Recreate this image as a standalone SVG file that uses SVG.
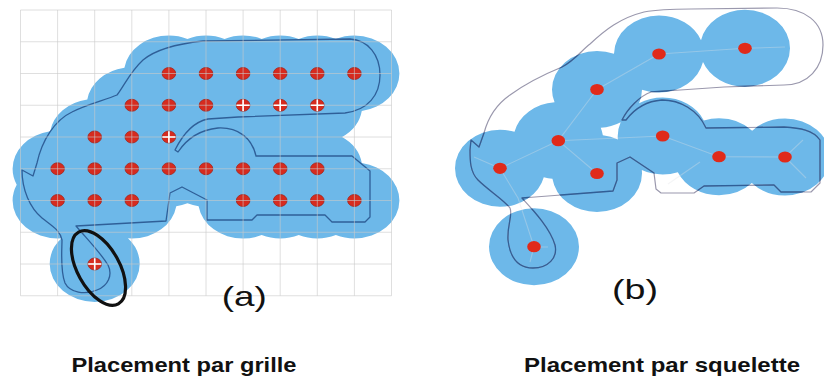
<svg xmlns="http://www.w3.org/2000/svg" width="824" height="383" viewBox="0 0 824 383">
<style>
.blob{fill:#6db8e9}
.grid{fill:none;stroke:#c9c9c9;stroke-width:1;opacity:0.6}
.outA{fill:none;stroke:#2f5f98;stroke-width:1.3;stroke-linejoin:round}
.outGray{fill:none;stroke:#9a98ad;stroke-width:1.2;stroke-linejoin:round}
.outBlue{fill:none;stroke:#2f5f98;stroke-width:1.3;stroke-linejoin:round}
.dotA{fill:#d62b1f;stroke:#a52319;stroke-width:0.8}
.dotB{fill:#e02a1a}
.cross{stroke:#ffffff;stroke-width:1.6}
.skel{fill:none;stroke:#dfe3e6;stroke-width:1.1;opacity:0.35}
.ring{fill:none;stroke:#111;stroke-width:3.2}
.lbl{font-family:"Liberation Sans",Arial,sans-serif;fill:#111}
</style>
<defs>
<clipPath id="clipA">
<ellipse cx="168.9" cy="73.5" rx="45" ry="38"/><ellipse cx="206" cy="73.5" rx="45" ry="38"/><ellipse cx="243.1" cy="73.5" rx="45" ry="38"/><ellipse cx="280.2" cy="73.5" rx="45" ry="38"/><ellipse cx="317.3" cy="73.5" rx="45" ry="38"/><ellipse cx="354.4" cy="73.5" rx="45" ry="38"/>
<ellipse cx="131.8" cy="105.25" rx="45" ry="38"/><ellipse cx="168.9" cy="105.25" rx="45" ry="38"/><ellipse cx="206" cy="105.25" rx="45" ry="38"/><ellipse cx="243.1" cy="105.25" rx="45" ry="38"/><ellipse cx="280.2" cy="105.25" rx="45" ry="38"/><ellipse cx="317.3" cy="105.25" rx="45" ry="38"/>
<ellipse cx="94.7" cy="137" rx="45" ry="38"/><ellipse cx="131.8" cy="137" rx="45" ry="38"/><ellipse cx="168.9" cy="137" rx="45" ry="38"/>
<ellipse cx="57.6" cy="168.75" rx="45" ry="38"/><ellipse cx="94.7" cy="168.75" rx="45" ry="38"/><ellipse cx="131.8" cy="168.75" rx="45" ry="38"/><ellipse cx="168.9" cy="168.75" rx="45" ry="38"/><ellipse cx="206" cy="168.75" rx="45" ry="38"/><ellipse cx="243.1" cy="168.75" rx="45" ry="38"/><ellipse cx="280.2" cy="168.75" rx="45" ry="38"/><ellipse cx="317.3" cy="168.75" rx="45" ry="38"/>
<ellipse cx="57.6" cy="200.5" rx="45" ry="38"/><ellipse cx="94.7" cy="200.5" rx="45" ry="38"/><ellipse cx="131.8" cy="200.5" rx="45" ry="38"/><ellipse cx="243.1" cy="200.5" rx="45" ry="38"/><ellipse cx="280.2" cy="200.5" rx="45" ry="38"/><ellipse cx="317.3" cy="200.5" rx="45" ry="38"/><ellipse cx="354.4" cy="200.5" rx="45" ry="38"/>
<ellipse cx="94.7" cy="264" rx="45" ry="38"/>
</clipPath>
<clipPath id="clipB">
<ellipse cx="745" cy="48.3" rx="45" ry="38.5"/><ellipse cx="659" cy="54" rx="45" ry="38.5"/><ellipse cx="597" cy="89.5" rx="45" ry="38.5"/><ellipse cx="558.3" cy="140.7" rx="45" ry="38.5"/><ellipse cx="662.7" cy="136" rx="45" ry="38.5"/><ellipse cx="500" cy="168.3" rx="45" ry="38.5"/><ellipse cx="597" cy="173.5" rx="45" ry="38.5"/><ellipse cx="719" cy="156.7" rx="45" ry="38.5"/><ellipse cx="785" cy="157" rx="45" ry="38.5"/><ellipse cx="534" cy="246.7" rx="45" ry="38.5"/>
</clipPath>
<path id="shapeB" d="M 484,133 C 488,118 497,104 510,95 C 525,84 545,74 562,67 C 575,60 582,50 590,44 C 605,30 620,18 644,12 C 660,9 680,9 691,9 L 777,8 C 805,8 823,22 823,45 C 823,68 808,85 784,85 L 724,87 L 651,92 C 640,96 628,108 622,120 L 626,120 C 635,108 648,101 662,100 C 680,100 698,110 706,128 L 784,127 C 800,128 813,130 820,140 L 820,183 L 811,192 L 781,192 L 774,185 L 704,186 L 694,193 L 661,193 L 656,189 L 654,173 L 630,157 L 617,163 L 617,180 L 613,191 L 522,198 C 533,210 550,228 555,245 C 558,258 548,268 533,268 C 518,268 510,257 508,240 C 507,225 513,215 510,208 C 504,200 488,190 478,180 C 470,172 470,160 470,150 L 471,140 L 479,147 Z"/>
</defs>

<g id="panel-a">
<rect class="blob" x="0" y="0" width="420" height="320" clip-path="url(#clipA)"/>
<path class="outA" d="M 37,163 C 42,140 55,120 72,112 C 85,105 105,100 117,95 C 124,86 130,72 143,60 C 155,50 175,44 203,41 L 350,39 C 368,40 380,55 380,75 C 380,95 368,110 345,113 L 238,117 L 208,119 C 193,122 182,136 175,150 L 178,152 C 186,140 198,130 218,128 C 238,127 252,138 256,156 L 352,156 L 370,171 L 370,217 L 365,222 L 332,222 L 325,215 L 257,215 L 252,220 L 207,220 L 207,200 L 182,187 L 170,193 L 166,221 L 76,226 C 88,240 100,252 108,265 C 113,275 108,286 97,290 C 85,295 70,293 65,283 C 60,270 62,250 62,240 C 60,230 52,226 42,218 C 30,208 22,190 22,170 L 33,176 Z"/>
<g id="dots-a">
<ellipse class="dotA" cx="168.9" cy="73.5" rx="6.8" ry="6"/><ellipse class="dotA" cx="206" cy="73.5" rx="6.8" ry="6"/><ellipse class="dotA" cx="243.1" cy="73.5" rx="6.8" ry="6"/><ellipse class="dotA" cx="280.2" cy="73.5" rx="6.8" ry="6"/><ellipse class="dotA" cx="317.3" cy="73.5" rx="6.8" ry="6"/><ellipse class="dotA" cx="354.4" cy="73.5" rx="6.8" ry="6"/>
<ellipse class="dotA" cx="131.8" cy="105.25" rx="6.8" ry="6"/><ellipse class="dotA" cx="168.9" cy="105.25" rx="6.8" ry="6"/><ellipse class="dotA" cx="206" cy="105.25" rx="6.8" ry="6"/><ellipse class="dotA" cx="243.1" cy="105.25" rx="6.8" ry="6"/><ellipse class="dotA" cx="280.2" cy="105.25" rx="6.8" ry="6"/><ellipse class="dotA" cx="317.3" cy="105.25" rx="6.8" ry="6"/>
<ellipse class="dotA" cx="94.7" cy="137" rx="6.8" ry="6"/><ellipse class="dotA" cx="131.8" cy="137" rx="6.8" ry="6"/><ellipse class="dotA" cx="168.9" cy="137" rx="6.8" ry="6"/>
<ellipse class="dotA" cx="57.6" cy="168.75" rx="6.8" ry="6"/><ellipse class="dotA" cx="94.7" cy="168.75" rx="6.8" ry="6"/><ellipse class="dotA" cx="131.8" cy="168.75" rx="6.8" ry="6"/><ellipse class="dotA" cx="168.9" cy="168.75" rx="6.8" ry="6"/><ellipse class="dotA" cx="206" cy="168.75" rx="6.8" ry="6"/><ellipse class="dotA" cx="243.1" cy="168.75" rx="6.8" ry="6"/><ellipse class="dotA" cx="280.2" cy="168.75" rx="6.8" ry="6"/><ellipse class="dotA" cx="317.3" cy="168.75" rx="6.8" ry="6"/>
<ellipse class="dotA" cx="57.6" cy="200.5" rx="6.8" ry="6"/><ellipse class="dotA" cx="94.7" cy="200.5" rx="6.8" ry="6"/><ellipse class="dotA" cx="131.8" cy="200.5" rx="6.8" ry="6"/><ellipse class="dotA" cx="243.1" cy="200.5" rx="6.8" ry="6"/><ellipse class="dotA" cx="280.2" cy="200.5" rx="6.8" ry="6"/><ellipse class="dotA" cx="317.3" cy="200.5" rx="6.8" ry="6"/><ellipse class="dotA" cx="354.4" cy="200.5" rx="6.8" ry="6"/>
<ellipse class="dotA" cx="94.7" cy="264" rx="6.8" ry="6"/>
</g>
<path class="grid" d="M20.5,10V295.75M57.6,10V295.75M94.7,10V295.75M131.8,10V295.75M168.9,10V295.75M206,10V295.75M243.1,10V295.75M280.2,10V295.75M317.3,10V295.75M354.4,10V295.75M391.5,10V295.75M20.5,10H391.5M20.5,41.75H391.5M20.5,73.5H391.5M20.5,105.25H391.5M20.5,137H391.5M20.5,168.75H391.5M20.5,200.5H391.5M20.5,232.25H391.5M20.5,264H391.5M20.5,295.75H391.5"/>
<path class="cross" d="M236.6,105.25h13M243.1,99.5v11.5M273.7,105.25h13M280.2,99.5v11.5M310.8,105.25h13M317.3,99.5v11.5M162.4,137h13M168.9,131.2v11.5M88.2,264h13M94.7,258.2v11.5"/>
<ellipse class="ring" cx="98.5" cy="268" rx="41" ry="21" transform="rotate(61 98.5 268)"/>
<text class="lbl" x="221.7" y="306" font-size="28" textLength="45" lengthAdjust="spacingAndGlyphs">(a)</text>
</g>

<g id="panel-b">
<rect class="blob" x="430" y="0" width="394" height="320" clip-path="url(#clipB)"/>
<path class="skel" d="M659,54 L745,48.3 L785,47 M597,89.5 L659,54 M558.3,140.7 L597,89.5 M500,168.3 L558.3,140.7 M500,168.3 L474,157 M558.3,140.7 L597,173.5 M558.3,140.7 L662.7,136 M500,168.3 L518,198 L534,246.7 L548,247 M534,246.7 L530,262 M662.7,136 L719,156.7 L785,157 L803,140 M785,157 L806,178 M700,162 L668,184"/>
<use href="#shapeB" class="outGray"/>
<use href="#shapeB" class="outBlue" clip-path="url(#clipB)"/>
<g id="dots-b">
<ellipse class="dotB" cx="745" cy="48.3" rx="6.8" ry="5.6"/><ellipse class="dotB" cx="659" cy="54" rx="6.8" ry="5.6"/><ellipse class="dotB" cx="597" cy="89.5" rx="6.8" ry="5.6"/><ellipse class="dotB" cx="558.3" cy="140.7" rx="6.8" ry="5.6"/><ellipse class="dotB" cx="662.7" cy="136" rx="6.8" ry="5.6"/><ellipse class="dotB" cx="500" cy="168.3" rx="6.8" ry="5.6"/><ellipse class="dotB" cx="597" cy="173.5" rx="6.8" ry="5.6"/><ellipse class="dotB" cx="719" cy="156.7" rx="6.8" ry="5.6"/><ellipse class="dotB" cx="785" cy="157" rx="6.8" ry="5.6"/><ellipse class="dotB" cx="534" cy="246.7" rx="6.8" ry="5.6"/>
</g>
<text class="lbl" x="612" y="299" font-size="28" textLength="46" lengthAdjust="spacingAndGlyphs">(b)</text>
</g>

<g id="captions">
<text class="lbl" x="71.5" y="372" font-size="21" font-weight="bold" textLength="225" lengthAdjust="spacingAndGlyphs">Placement par grille</text>
<text class="lbl" x="524" y="372" font-size="21" font-weight="bold" textLength="276" lengthAdjust="spacingAndGlyphs">Placement par squelette</text>
</g>
</svg>
